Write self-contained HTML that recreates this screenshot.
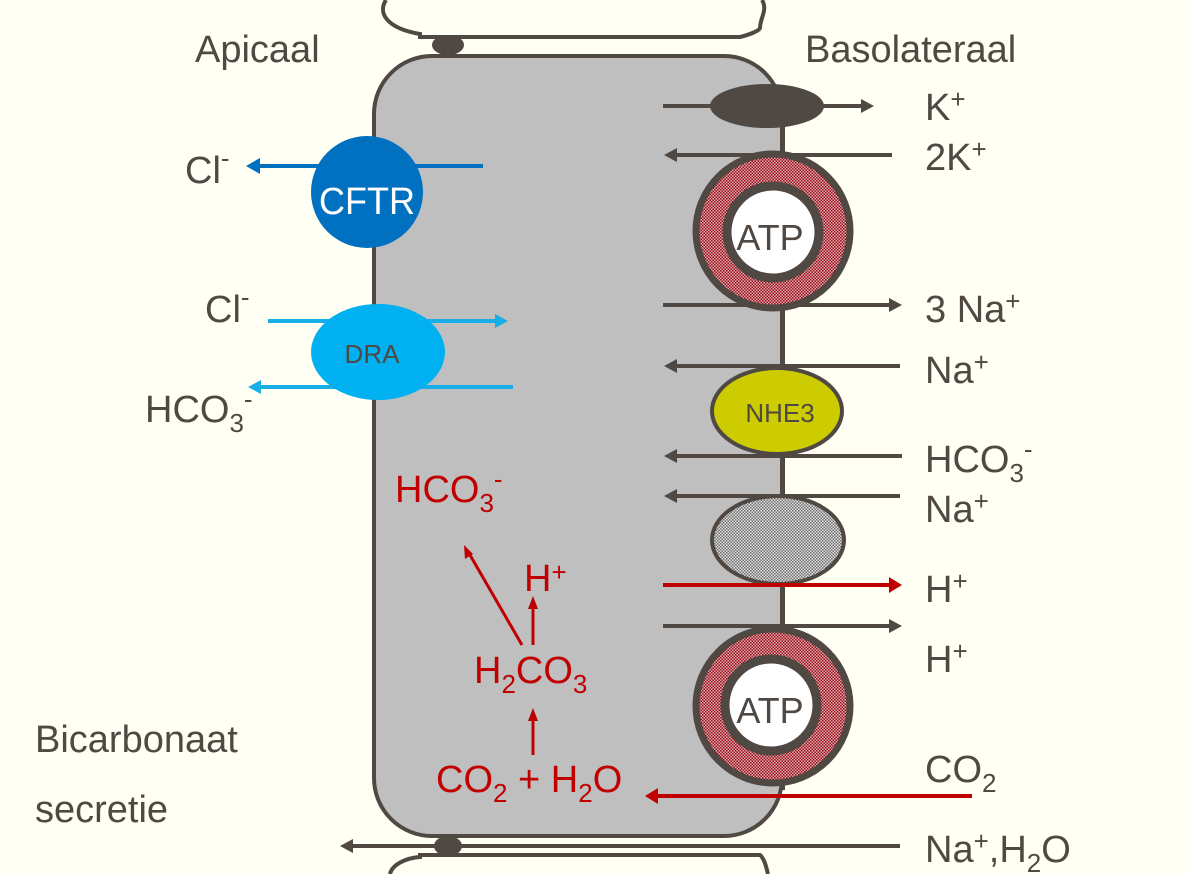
<!DOCTYPE html>
<html><head><meta charset="utf-8"><style>
html,body{margin:0;padding:0;background:#fffff4;}
svg{display:block;}
text{font-family:"Liberation Sans",sans-serif;}
</style></head><body>
<svg width="1190" height="874" viewBox="0 0 1190 874" xmlns="http://www.w3.org/2000/svg">
<defs>
<pattern id="red" width="3" height="3" patternUnits="userSpaceOnUse"><rect width="3" height="3" fill="#e0a8ab"/><rect width="1.5" height="1.5" fill="#98101c"/><rect x="1.5" y="1.5" width="1.5" height="1.5" fill="#98101c"/></pattern>
<pattern id="gr" width="3" height="3" patternUnits="userSpaceOnUse"><rect width="3" height="3" fill="#e0e0e0"/><rect width="1.5" height="1.5" fill="#707070"/><rect x="1.5" y="1.5" width="1.5" height="1.5" fill="#707070"/></pattern>
</defs>
<rect width="1190" height="874" fill="#fffff4"/>
<path d="M386,0 C378,12 385,28 420,34 L420,37 L740,37 C752,34 760,30 760,28 C760,18 768,10 762,0" fill="#fffff4" stroke="#4f4843" stroke-width="4"/>
<path d="M390,874 C392,865 405,858 420,857 L420,855 L760,855 C764,858 766,866 768,874" fill="#fffff4" stroke="#4f4843" stroke-width="4"/>
<rect x="374" y="56" width="408" height="780" rx="58" fill="#bfbfbf" stroke="#4f4843" stroke-width="4"/>
<line x1="783" y1="110" x2="783" y2="790" stroke="#4f4843" stroke-width="4"/>
<ellipse cx="448" cy="45" rx="16" ry="10" fill="#4f4843"/>
<ellipse cx="448" cy="846" rx="14" ry="10" fill="#4f4843"/>

<g stroke="#4f4843" stroke-width="4" fill="none">
<line x1="663" y1="106" x2="870" y2="106"/>
<line x1="892" y1="155" x2="670" y2="155"/>
<line x1="663" y1="305" x2="896" y2="305"/>
<line x1="900" y1="366" x2="670" y2="366"/>
<line x1="902" y1="456" x2="670" y2="456"/>
<line x1="900" y1="496" x2="670" y2="496"/>
<line x1="663" y1="626" x2="896" y2="626"/>
<line x1="900" y1="846" x2="352" y2="846"/>
</g>
<g fill="#4f4843">
<path d="M874,106 l-13,-7 v14z"/>
<path d="M664,155 l13,-7 v14z"/>
<path d="M902,305 l-13,-7 v14z"/>
<path d="M664,366 l13,-7 v14z"/>
<path d="M664,456 l13,-7 v14z"/>
<path d="M664,496 l13,-7 v14z"/>
<path d="M902,626 l-13,-7 v14z"/>
<path d="M340,846 l13,-7 v14z"/>
</g>
<ellipse cx="767" cy="106" rx="57" ry="22" fill="#4f4843"/>

<g stroke="#4f4843">
<circle cx="773" cy="231" r="77" fill="url(#red)" stroke-width="7"/>
<circle cx="773" cy="232" r="46" fill="#fff" stroke-width="9"/>
<circle cx="773" cy="706" r="77" fill="url(#red)" stroke-width="7"/>
<circle cx="771" cy="705" r="46" fill="#fff" stroke-width="9"/>
</g>
<text x="770" y="250" font-size="36" fill="#4f4843" text-anchor="middle">ATP</text>
<text x="770" y="723" font-size="36" fill="#4f4843" text-anchor="middle">ATP</text>

<ellipse cx="777" cy="411" rx="65" ry="43" fill="#cccc00" stroke="#4f4843" stroke-width="4"/>
<text x="780" y="422" font-size="26" fill="#4f4843" text-anchor="middle">NHE3</text>
<ellipse cx="778" cy="540" rx="66" ry="44" fill="url(#gr)" stroke="#4f4843" stroke-width="4"/>

<g stroke="#c00000" stroke-width="4">
<line x1="663" y1="585" x2="892" y2="585"/>
<line x1="972" y1="796" x2="655" y2="796"/>
<line x1="533" y1="755" x2="533" y2="718" stroke-width="3"/>
<line x1="533" y1="645" x2="533" y2="606" stroke-width="3"/>
<line x1="522" y1="645" x2="470" y2="555" stroke-width="3"/>
</g>
<g fill="#c00000">
<path d="M902,585 l-13,-8 v16z"/>
<path d="M645,796 l13,-8 v16z"/>
<path d="M533,708 l-5,13 h10z"/>
<path d="M533,596 l-5,13 h10z"/>
<path d="M464,545 l1,14 l8,-5z"/>
</g>
<g fill="#c00000" font-size="38">
<text x="395" y="502">HCO<tspan font-size="26" dy="10">3</tspan><tspan font-size="26" dy="-24">-</tspan></text>
<text x="524" y="591">H<tspan font-size="26" dy="-10">+</tspan></text>
<text x="474" y="683">H<tspan font-size="26" dy="10">2</tspan><tspan dy="-10">CO</tspan><tspan font-size="26" dy="10">3</tspan></text>
<text x="436" y="792">CO<tspan font-size="26" dy="10">2</tspan><tspan dy="-10"> + H</tspan><tspan font-size="26" dy="10">2</tspan><tspan dy="-10">O</tspan></text>
</g>

<line x1="483" y1="166" x2="258" y2="166" stroke="#0070c0" stroke-width="4"/>
<path d="M246,166 l14,-8 v16z" fill="#0070c0"/>
<circle cx="367" cy="192" r="56" fill="#0070c0"/>
<text x="367" y="214" font-size="38" fill="#fff" text-anchor="middle" textLength="96" lengthAdjust="spacingAndGlyphs">CFTR</text>

<g stroke="#1aaee8" stroke-width="4">
<line x1="268" y1="321" x2="498" y2="321"/>
<line x1="260" y1="387" x2="513" y2="387"/>
</g>
<path d="M508,321 l-13,-7 v14z" fill="#1aaee8"/>
<path d="M248,387 l13,-7 v14z" fill="#1aaee8"/>
<ellipse cx="378" cy="352" rx="67" ry="48" fill="#00b0f0"/>
<text x="372" y="363" font-size="26" fill="#4f4843" text-anchor="middle">DRA</text>

<g fill="#4f4843" font-size="38">
<text x="195" y="62">Apicaal</text>
<text x="805" y="62">Basolateraal</text>
<text x="185" y="183">Cl<tspan font-size="26" dy="-16">-</tspan></text>
<text x="205" y="322">Cl<tspan font-size="26" dy="-16">-</tspan></text>
<text x="145" y="422">HCO<tspan font-size="26" dy="10">3</tspan><tspan font-size="26" dy="-24">-</tspan></text>
<text x="35" y="752">Bicarbonaat</text>
<text x="35" y="822">secretie</text>
<text x="925" y="120">K<tspan font-size="26" dy="-12">+</tspan></text>
<text x="925" y="170">2K<tspan font-size="26" dy="-12">+</tspan></text>
<text x="925" y="322">3 Na<tspan font-size="26" dy="-12">+</tspan></text>
<text x="925" y="383">Na<tspan font-size="26" dy="-12">+</tspan></text>
<text x="925" y="472">HCO<tspan font-size="26" dy="10">3</tspan><tspan font-size="26" dy="-24">-</tspan></text>
<text x="925" y="522">Na<tspan font-size="26" dy="-12">+</tspan></text>
<text x="925" y="602">H<tspan font-size="26" dy="-12">+</tspan></text>
<text x="925" y="672">H<tspan font-size="26" dy="-12">+</tspan></text>
<text x="925" y="782">CO<tspan font-size="26" dy="10">2</tspan></text>
<text x="925" y="862">Na<tspan font-size="26" dy="-12">+</tspan><tspan dy="12">,H</tspan><tspan font-size="26" dy="10">2</tspan><tspan dy="-10">O</tspan></text>
</g>
</svg>
</body></html>
